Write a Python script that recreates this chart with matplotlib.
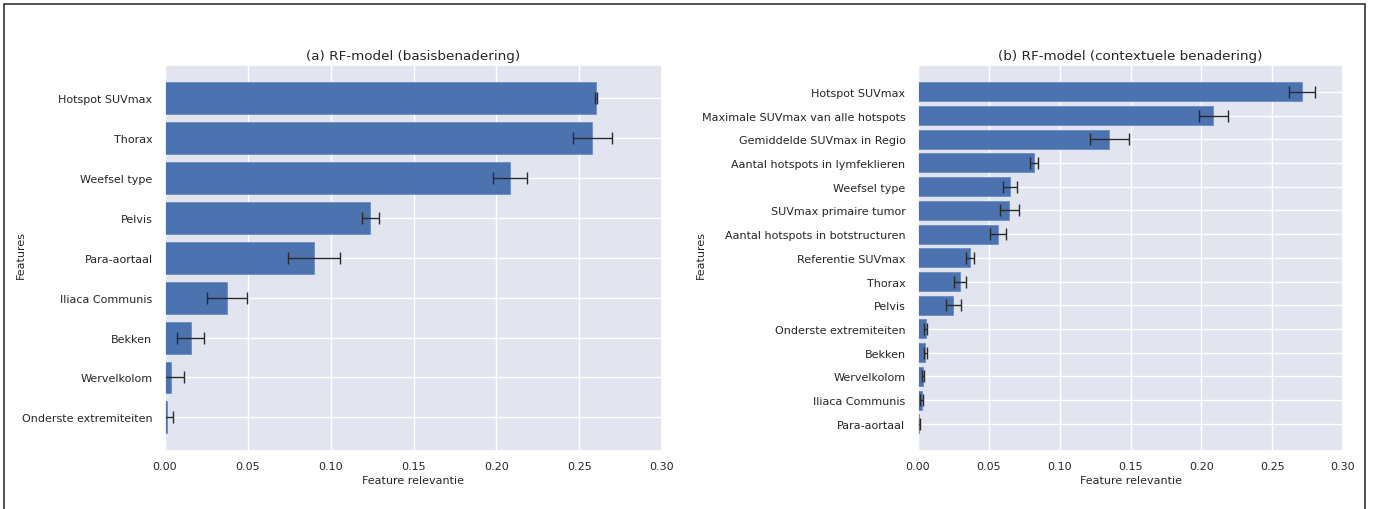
import numpy as np
import matplotlib
matplotlib.use("Agg")
import matplotlib.pyplot as plt
import seaborn as sns
from matplotlib.patches import Rectangle

sns.set_theme(style="darkgrid", rc={"axes.facecolor": "#E2E5EF"})
plt.rcParams['font.family'] = ['DejaVu Sans']

# (a) basisbenadering
feat_a = ["Hotspot SUVmax", "Thorax", "Weefsel type", "Pelvis", "Para-aortaal",
          "Iliaca Communis", "Bekken", "Wervelkolom", "Onderste extremiteiten"]
imp_a = [0.260, 0.258, 0.208, 0.124, 0.090, 0.0375, 0.0155, 0.0035, 0.0012]
err_a = [0.0005, 0.0117, 0.0103, 0.0050, 0.0156, 0.0119, 0.0081, 0.0079, 0.0035]

# (b) contextuele benadering
feat_b = ["Hotspot SUVmax", "Maximale SUVmax van alle hotspots", "Gemiddelde SUVmax in Regio",
          "Aantal hotspots in lymfeklieren", "Weefsel type", "SUVmax primaire tumor",
          "Aantal hotspots in botstructuren", "Referentie SUVmax", "Thorax", "Pelvis",
          "Onderste extremiteiten", "Bekken", "Wervelkolom", "Iliaca Communis", "Para-aortaal"]
imp_b = [0.271, 0.2085, 0.135, 0.082, 0.065, 0.0645, 0.0563, 0.0366, 0.0297, 0.0250,
         0.0053, 0.0050, 0.0036, 0.0026, 0.0008]
err_b = [0.0094, 0.0105, 0.0138, 0.0030, 0.0050, 0.0066, 0.0058, 0.0030, 0.0045, 0.0053,
         0.0012, 0.0011, 0.0009, 0.0009, 0.0005]

titles = ["(a) RF-model (basisbenadering)", "(b) RF-model (contextuele benadering)"]

fig = plt.figure(figsize=(13.73, 5.10), dpi=100)
ax1 = fig.add_axes([165 / 1373, 0.114, 497 / 1373, 0.757])
ax2 = fig.add_axes([918 / 1373, 0.114, 425 / 1373, 0.757])

for ax, feats, imp, err, title in [(ax1, feat_a, imp_a, err_a, titles[0]),
                                   (ax2, feat_b, imp_b, err_b, titles[1])]:
    y = np.arange(len(feats))
    ax.barh(y, imp, xerr=err, color="#4C72B0", edgecolor="#6a8cc4", linewidth=0.6,
            error_kw=dict(ecolor="#2a2a2a", elinewidth=1.0, capsize=4, capthick=1.0))
    ax.set_yticks(y)
    ax.set_yticklabels(feats, fontsize=8)
    ax.invert_yaxis()
    ax.set_xlim(0, 0.30)
    ticks = np.arange(0, 0.31, 0.05)
    ax.set_xticks(ticks)
    ax.set_xticklabels([f"{v:.2f}" for v in ticks], fontsize=8)
    ax.set_xlabel("Feature relevantie", fontsize=8, labelpad=3)
    ax.set_ylabel("Features", fontsize=8)
    ax.set_title(title, fontsize=9.7, pad=4)
    ax.tick_params(axis="both", pad=3)
    ax.tick_params(axis="x", pad=1.5)

ax1.yaxis.set_label_coords(26 / 1373, 0.5, transform=fig.transFigure)
ax2.yaxis.set_label_coords(706 / 1373, 0.5, transform=fig.transFigure)

# frame around the whole figure
fig.patches.append(Rectangle((4 / 1373, -0.05), 1361 / 1373, 1 - 5 / 510 + 0.05,
                             transform=fig.transFigure, fill=False,
                             edgecolor="#333333", linewidth=1.2))

fig.savefig("out.png", dpi=100)
